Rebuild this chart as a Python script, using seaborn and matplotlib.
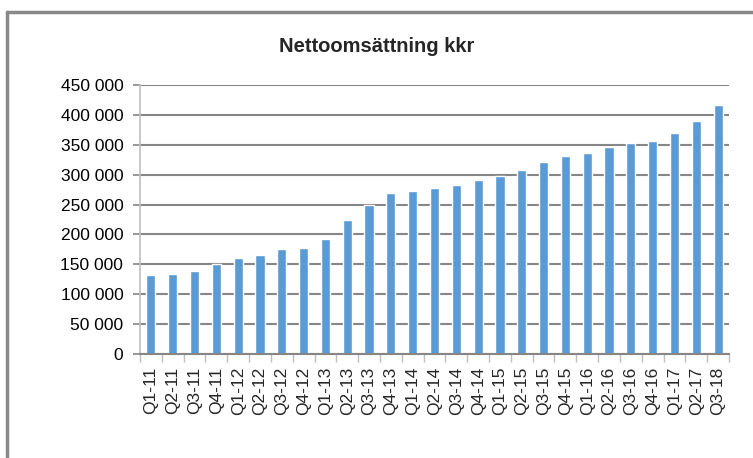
"""
Nettoomsättning kkr - stapeldiagram per kvartal
"""
import numpy as np
import pandas as pd
import matplotlib
matplotlib.use('Agg')
import matplotlib.pyplot as plt
from matplotlib.lines import Line2D
from matplotlib.ticker import FuncFormatter, FixedLocator
import seaborn as sns

# data (kkr)
quarters = ['Q1-11', 'Q2-11', 'Q3-11', 'Q4-11',
            'Q1-12', 'Q2-12', 'Q3-12', 'Q4-12',
            'Q1-13', 'Q2-13', 'Q3-13', 'Q4-13',
            'Q1-14', 'Q2-14', 'Q3-14', 'Q4-14',
            'Q1-15', 'Q2-15', 'Q3-15', 'Q4-15',
            'Q1-16', 'Q2-16', 'Q3-16', 'Q4-16',
            'Q1-17', 'Q2-17', 'Q3-18']
sales = [132500, 134000, 139000, 150000,
         161000, 166000, 176000, 178000,
         193000, 224000, 250000, 270000,
         273000, 278000, 283000, 291000,
         298000, 308000, 321000, 331000,
         336000, 346000, 353000, 356000,
         370000, 390000, 417000]
y_ticks = list(range(0, 450001, 50000))

BAR_COLOR = '#5B9BD5'
GRID_COLOR = '#868686'

sns.set_theme(style='white')
plt.rcParams['font.family'] = ['Liberation Sans', 'DejaVu Sans']

df = pd.DataFrame({'kvartal': quarters, 'kkr': sales})

fig = plt.figure(figsize=(7.53, 4.58), dpi=100)
ax = fig.add_axes([140 / 753, 1 - 354 / 458, (729 - 140) / 753, (354 - 85) / 458])

sns.barplot(data=df, x='kvartal', y='kkr', color=BAR_COLOR, width=0.42,
            saturation=1, ax=ax)

ax.set_ylim(0, 450000)
ax.set_xlim(-0.5, len(quarters) - 0.5)
ax.set_yticks(y_ticks)
ax.yaxis.set_major_formatter(FuncFormatter(lambda v, p: f'{int(v):,}'.replace(',', ' ')))
ax.set_xlabel('')
ax.set_ylabel('')

# rutnät
ax.yaxis.grid(True, color=GRID_COLOR, linewidth=1.5)
ax.set_axisbelow(True)
for side in ['top', 'right']:
    ax.spines[side].set_visible(False)
ax.spines['left'].set_color('#BFBFBF')
ax.spines['left'].set_linewidth(1.2)
ax.spines['bottom'].set_color(GRID_COLOR)
ax.spines['bottom'].set_linewidth(1.5)

# axlar och etiketter
ax.tick_params(axis='y', labelsize=12.5, labelcolor='black', length=5, width=1.2,
               direction='out', left=True, pad=7, color=GRID_COLOR)
ax.tick_params(axis='x', which='major', labelsize=12.5, length=0, pad=9,
               labelrotation=90)
ax.xaxis.set_minor_locator(FixedLocator(np.arange(-0.5, len(quarters), 1)))
ax.tick_params(axis='x', which='minor', bottom=True, length=6, width=1,
               color='#BFBFBF', direction='out')

fig.suptitle('Nettoomsättning kkr', x=0.5, y=1 - 47 / 458, va='center',
             fontsize=14.5, fontweight='bold')

# ram runt diagrammet
fig.add_artist(Line2D([7 / 753, 1.0], [1 - 12 / 458, 1 - 12 / 458],
                      transform=fig.transFigure, color='#888888', linewidth=2.5))
fig.add_artist(Line2D([7 / 753, 7 / 753], [0, 1 - 12 / 458],
                      transform=fig.transFigure, color='#888888', linewidth=2.5))

fig.savefig('out.png', dpi=100)
plt.close(fig)
